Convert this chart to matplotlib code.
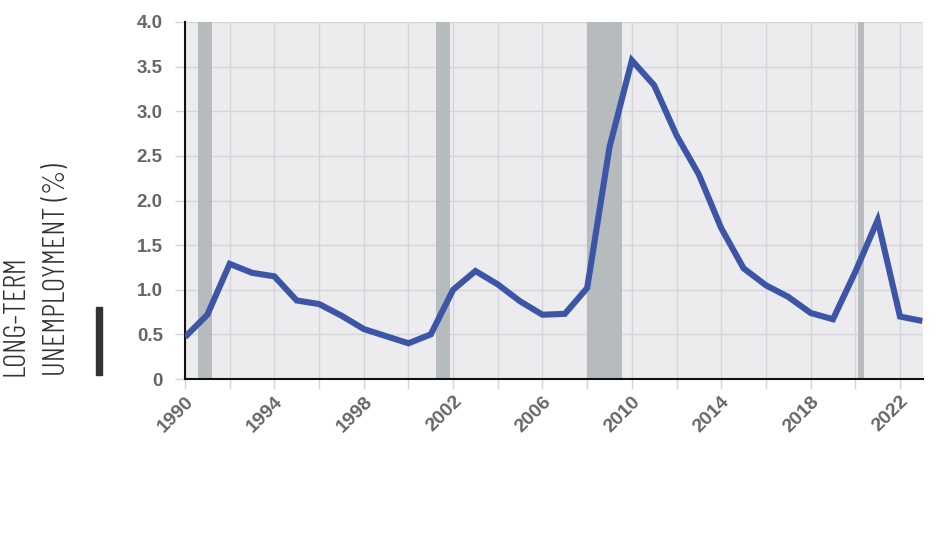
import matplotlib
matplotlib.use("Agg")
import matplotlib.pyplot as plt
from matplotlib.patches import Rectangle

years = [1990, 1991, 1992, 1993, 1994, 1995, 1996, 1997, 1998, 1999, 2000,
         2001, 2002, 2003, 2004, 2005, 2006, 2007, 2008, 2009, 2010, 2011,
         2012, 2013, 2014, 2015, 2016, 2017, 2018, 2019, 2020, 2021, 2022, 2023]
rate = [0.47, 0.72, 1.29, 1.19, 1.15, 0.88, 0.84, 0.71, 0.56, 0.48, 0.40,
        0.50, 1.00, 1.21, 1.06, 0.87, 0.72, 0.73, 1.02, 2.60, 3.57, 3.29,
        2.73, 2.29, 1.69, 1.24, 1.05, 0.92, 0.74, 0.67, 1.20, 1.78, 0.70, 0.65]
recessions = [(1990.57, 1991.22), (2001.25, 2001.88), (2008.0, 2009.55), (2020.1, 2020.38)]
tick_years = list(range(1990, 2024, 2))
label_years = list(range(1990, 2024, 4))
y_ticks = [0, 0.5, 1.0, 1.5, 2.0, 2.5, 3.0, 3.5, 4.0]
y_labels = ["0", "0.5", "1.0", "1.5", "2.0", "2.5", "3.0", "3.5", "4.0"]
ylabel_lines = ["LONG-TERM", "UNEMPLOYMENT (%)"]

fig = plt.figure(figsize=(9.5, 5.4), dpi=100)
ax = fig.add_axes([185/950, 1-379/540, (923-185)/950, (379-22)/540])
ax.set_facecolor("#ececef")
ax.set_xlim(1990, 2023.03)
ax.set_ylim(0, 4.0)

for a, b in recessions:
    ax.axvspan(a, b, color="#b6bbbd", zorder=1, lw=0)

ax.set_xticks(tick_years)
ax.set_xticklabels([str(y) if y in label_years else "" for y in tick_years],
                   rotation=45, ha="right", rotation_mode="anchor")
ax.set_yticks(y_ticks)
ax.set_yticklabels(y_labels)
ax.grid(True, color="#d6d6da", lw=1, zorder=0)
ax.set_axisbelow(True)
ax.tick_params(axis="both", colors="#d6d6da", length=7, width=1)
ax.tick_params(axis="y", labelsize=13.5, pad=9)
ax.tick_params(axis="x", labelsize=14, pad=3)
for lab in ax.get_xticklabels() + ax.get_yticklabels():
    lab.set_color("#666666")
    lab.set_fontweight("bold")
    lab.set_fontfamily("Liberation Sans")

for s in ["top", "right"]:
    ax.spines[s].set_visible(False)
for s in ["left", "bottom"]:
    ax.spines[s].set_color("#111111")
    ax.spines[s].set_linewidth(1.5)

ax.plot(years, rate, color="#3d55a6", lw=4.4, solid_joinstyle="miter",
        solid_capstyle="butt", zorder=3, clip_on=True)

lab_font = ["Barlow Condensed", "DejaVu Sans"]
fig.text(16/950, 1-376/540, ylabel_lines[0], rotation=90, ha="center", va="bottom",
         fontsize=22.5, color="#333333", family=lab_font, weight=300)
fig.text(57/950, 1-376/540, ylabel_lines[1], rotation=90, ha="center", va="bottom",
         fontsize=22.5, color="#333333", family=lab_font, weight=300)
fig.patches.append(Rectangle((96/950, 1-375/540), 6/950, 68/540,
                             transform=fig.transFigure, color="#333333"))

fig.savefig("out.png", dpi=100)
